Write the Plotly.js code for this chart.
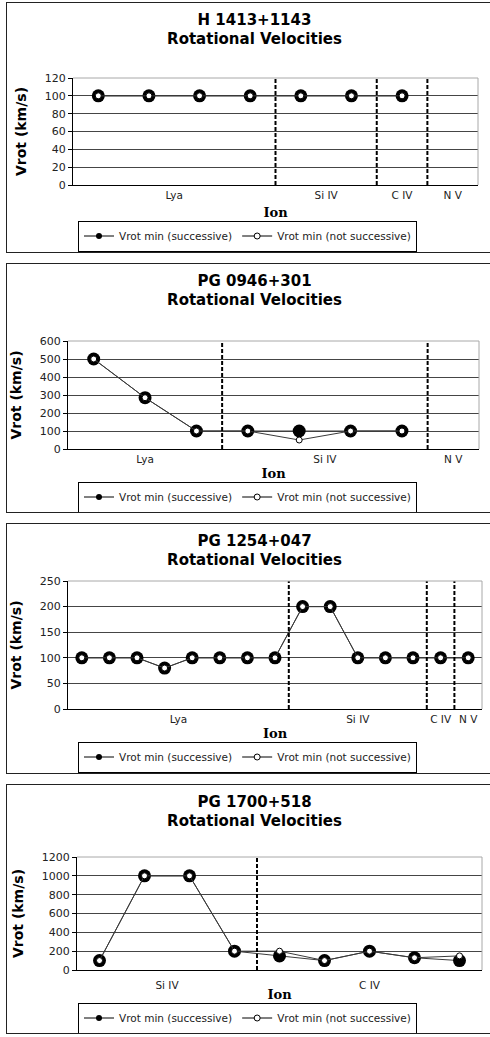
<!DOCTYPE html>
<html><head><meta charset="utf-8">
<script src="https://cdn.plot.ly/plotly-3.0.1.min.js"></script>
<style>
body{margin:0;background:#fff;width:490px;height:1037px;overflow:hidden;position:relative}
.panel{position:absolute;left:6px;width:495px;border:1px solid #222;background:#fff}
</style></head><body>
<div class="panel" id="p1" style="top:2px;height:249px"></div>
<div class="panel" id="p2" style="top:263px;height:248px"></div>
<div class="panel" id="p3" style="top:523px;height:249px"></div>
<div class="panel" id="p4" style="top:784px;height:248px"></div>
<script>
// ---- Data ----
const titles = ["H 1413+1143", "PG 0946+301", "PG 1254+047", "PG 1700+518"];

const ions1 = ["Lya","Lya","Lya","Lya","Si IV","Si IV","C IV","N V"];
const succ1 = [100,100,100,100,100,100,100,null];
const notSucc1 = [100,100,100,100,100,100,100,null];

const ions2 = ["Lya","Lya","Lya","Si IV","Si IV","Si IV","Si IV","N V"];
const succ2 = [500,285,100,100,100,100,100,null];
const notSucc2 = [500,285,100,100,50,100,100,null];

const ions3 = ["Lya","Lya","Lya","Lya","Lya","Lya","Lya","Lya","Si IV","Si IV","Si IV","Si IV","Si IV","C IV","N V"];
const succ3 = [100,100,100,80,100,100,100,100,200,200,100,100,100,100,100];
const notSucc3 = [100,100,100,80,100,100,100,100,200,200,100,100,100,100,100];

const ions4 = ["Si IV","Si IV","Si IV","Si IV","C IV","C IV","C IV","C IV","C IV"];
const succ4 = [100,1000,1000,200,150,100,200,130,100];
const notSucc4 = [100,1000,1000,200,200,100,200,130,150];

const yMax = [120, 600, 250, 1200];
const yStep = [20, 100, 50, 200];

const seriesNames = ["Vrot min (successive)", "Vrot min (not successive)"];
const xTitle = "Ion";
const yTitle = "Vrot (km/s)";

// ---- Layout geometry (px inside each panel) ----
const W = 495;
const geo = [
  {h:249, l:66, r:24, t:75, b:67},
  {h:248, l:61, r:23, t:77, b:63},
  {h:249, l:61, r:20, t:57, b:64},
  {h:248, l:70, r:20, t:72, b:63}
];

function groups(ions){
  const out = [];
  ions.forEach((g,i)=>{
    if(!out.length || out[out.length-1].name!==g) out.push({name:g, start:i+1, end:i+1});
    else out[out.length-1].end = i+1;
  });
  return out;
}

function panel(id, k, ions, succ, notSucc){
  const g = geo[k];
  const xs = ions.map((_,i)=>i+1);
  const grp = groups(ions);
  const lineCol = '#3a3a3a';
  const traces = [
    {x:xs, y:succ, mode:'lines+markers', showlegend:false, hoverinfo:'skip',
     line:{color:lineCol,width:1}, marker:{color:'#000',size:13}},
    {x:xs, y:notSucc, mode:'lines+markers', showlegend:false, hoverinfo:'skip',
     line:{color:lineCol,width:1}, marker:{color:'#fff',size:6,line:{color:'#000',width:1}}},
    {x:[null], y:[null], mode:'lines+markers', name:seriesNames[0],
     line:{color:'#000',width:1}, marker:{color:'#000',size:6}},
    {x:[null], y:[null], mode:'lines+markers', name:seriesNames[1],
     line:{color:'#000',width:1}, marker:{color:'#fff',size:6,line:{color:'#000',width:1}}}
  ];
  const shapes = [];
  grp.slice(1).forEach(gr=>{
    shapes.push({type:'line', xref:'x', yref:'paper', x0:gr.start-0.5, x1:gr.start-0.5, y0:0, y1:1,
      line:{color:'#000', width:2, dash:'4px,2px'}, layer:'above'});
  });
  shapes.push({type:'line', xref:'paper', yref:'paper', x0:0, x1:1, y0:1, y1:1, line:{color:'#a8a8a8', width:1}, layer:'above'});
  shapes.push({type:'line', xref:'paper', yref:'paper', x0:1, x1:1, y0:0, y1:1, line:{color:'#a8a8a8', width:1}, layer:'above'});
  const layout = {
    width:W, height:g.h,
    margin:{l:g.l, r:g.r, t:g.t, b:g.b},
    paper_bgcolor:'#fff', plot_bgcolor:'#fff',
    showlegend:true,
    title:{text:titles[k]+'<br>Rotational Velocities', x:0.5, xref:'container', xanchor:'center',
      y:1-21.5/g.h, yref:'container', yanchor:'middle',
      font:{family:'DejaVu Sans', size:15, color:'#000', weight:'bold'}},
    xaxis:{range:[0.5, ions.length+0.5], tickvals:grp.map(gr=>(gr.start+gr.end)/2), ticktext:grp.map(gr=>gr.name),
      ticks:'', showgrid:false, zeroline:false, showline:true, linecolor:'#000', linewidth:1,
      tickfont:{family:'DejaVu Sans', size:10.5, color:'#222'}, ticklabelstandoff:(k===3?5:0),
      title:{text:xTitle, standoff:9, font:{family:'DejaVu Serif', size:13, color:'#000', weight:'bold'}},
      fixedrange:true},
    yaxis:{range:[0, yMax[k]], dtick:yStep[k], tick0:0, ticks:'outside', ticklen:4, tickcolor:'#000',
      showline:true, linecolor:'#000', linewidth:1, gridcolor:'#454545', gridwidth:1, zeroline:false,
      tickfont:{family:'DejaVu Sans', size:11, color:'#222'},
      title:{text:yTitle, standoff:14, font:{family:'DejaVu Sans', size:14, color:'#000', weight:'bold'}},
      fixedrange:true},
    legend:{orientation:'h', xref:'container', yref:'container', x:(247.5-7)/W, xanchor:'center',
      y:1-233/g.h, yanchor:'middle', bordercolor:'#000', borderwidth:1, bgcolor:'#fff',
      font:{family:'DejaVu Sans', size:10.5, color:'#222'}},
    shapes:shapes
  };
  Plotly.newPlot(id, traces, layout, {staticPlot:true, displayModeBar:false});
}

panel('p1', 0, ions1, succ1, notSucc1);
panel('p2', 1, ions2, succ2, notSucc2);
panel('p3', 2, ions3, succ3, notSucc3);
panel('p4', 3, ions4, succ4, notSucc4);
</script>
</body></html>
